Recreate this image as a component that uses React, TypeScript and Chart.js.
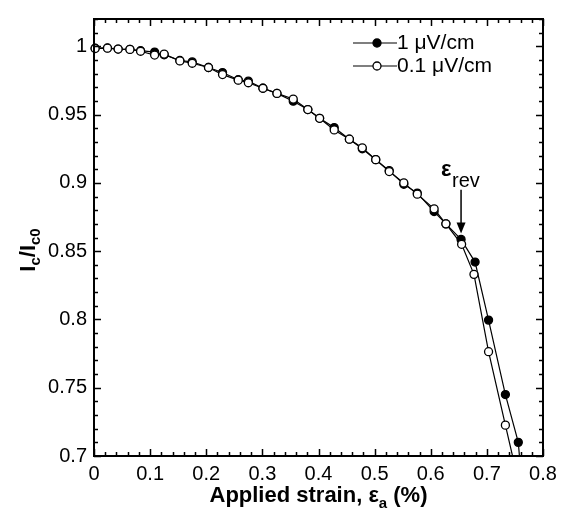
import { useEffect, useRef } from "react";
import { Chart, registerables } from "chart.js";

Chart.register(...registerables);

// Series: 1 µV/cm criterion (filled circles)
const strain1 = [0.002, 0.024, 0.043, 0.064, 0.083, 0.108, 0.125, 0.153, 0.175, 0.204, 0.229, 0.257, 0.275, 0.301, 0.326, 0.355, 0.381, 0.402, 0.428, 0.455, 0.478, 0.502, 0.526, 0.552, 0.576, 0.606, 0.627, 0.654, 0.679, 0.703, 0.733, 0.756, 0.766];
const ic1 = [0.9986, 0.9988, 0.998, 0.9978, 0.9968, 0.9958, 0.9938, 0.9896, 0.9886, 0.9845, 0.9808, 0.9755, 0.9745, 0.9693, 0.9655, 0.9598, 0.9537, 0.9473, 0.9405, 0.932, 0.925, 0.917, 0.909, 0.899, 0.8925, 0.879, 0.870, 0.8586, 0.842, 0.7995, 0.745, 0.710, 0.66];

// Series: 0.1 µV/cm criterion (open circles)
const strain01 = [0.002, 0.024, 0.043, 0.064, 0.083, 0.108, 0.125, 0.153, 0.175, 0.204, 0.229, 0.257, 0.275, 0.301, 0.326, 0.355, 0.381, 0.402, 0.428, 0.455, 0.478, 0.502, 0.526, 0.552, 0.576, 0.606, 0.627, 0.655, 0.677, 0.703, 0.733, 0.757];
const ic01 = [0.9984, 0.9986, 0.998, 0.9977, 0.9964, 0.9936, 0.9943, 0.9893, 0.9876, 0.9845, 0.9793, 0.9752, 0.9733, 0.9693, 0.9655, 0.9614, 0.9537, 0.9473, 0.9388, 0.932, 0.9257, 0.917, 0.9083, 0.9, 0.8917, 0.881, 0.87, 0.855, 0.833, 0.7764, 0.7226, 0.68];

const seriesLabels = ["1 μV/cm", "0.1 μV/cm"];

const xTicks = [0, 0.1, 0.2, 0.3, 0.4, 0.5, 0.6, 0.7, 0.8];
const xTickLabels = ["0", "0.1", "0.2", "0.3", "0.4", "0.5", "0.6", "0.7", "0.8"];
const yTicks = [0.7, 0.75, 0.8, 0.85, 0.9, 0.95, 1];
const yTickLabels = ["0.7", "0.75", "0.8", "0.85", "0.9", "0.95", "1"];

const xMin = 0, xMax = 0.8, xMinorStep = 0.02;
const yMin = 0.7, yMax = 1.02, yMinorStep = 0.01;

// epsilon_rev annotation (data coords)
const revStrain = 0.654;
const revArrowTip = 0.863;
const revArrowTail = 0.895;

const FONT = "'Liberation Sans', Arial, Helvetica, sans-serif";

const decorPlugin = {
  id: "decor",
  afterDraw(chart: any) {
    const ctx = chart.ctx as CanvasRenderingContext2D;
    const { left, right, top, bottom } = chart.chartArea;
    const xs = chart.scales.x;
    const ys = chart.scales.y;
    ctx.save();
    ctx.strokeStyle = "#000";
    ctx.fillStyle = "#000";

    // frame
    ctx.lineWidth = 2;
    ctx.strokeRect(left, top, right - left, bottom - top);

    // ticks (inward, all four sides)
    ctx.lineWidth = 1.5;
    const nx = Math.round((xMax - xMin) / xMinorStep);
    for (let i = 0; i <= nx; i++) {
      const v = xMin + i * xMinorStep;
      const major = i % 5 === 0;
      const len = major ? 7 : 4;
      const px = Math.round(xs.getPixelForValue(v)) + 0.5;
      ctx.beginPath();
      ctx.moveTo(px, bottom);
      ctx.lineTo(px, bottom - len);
      ctx.moveTo(px, top);
      ctx.lineTo(px, top + len);
      ctx.stroke();
    }
    const ny = Math.round((yMax - yMin) / yMinorStep);
    for (let i = 0; i <= ny; i++) {
      const v = yMin + i * yMinorStep;
      const major = i % 5 === 0;
      const len = major ? 7 : 4;
      const py = Math.round(ys.getPixelForValue(v)) + 0.5;
      ctx.beginPath();
      ctx.moveTo(left, py);
      ctx.lineTo(left + len, py);
      ctx.moveTo(right, py);
      ctx.lineTo(right - len, py);
      ctx.stroke();
    }

    // x title with subscript
    ctx.textBaseline = "alphabetic";
    ctx.textAlign = "left";
    const xParts: [string, string, number][] = [
      ["Applied strain, ε", "bold 22px " + FONT, 0],
      ["a", "bold 15px " + FONT, 6],
      [" (%)", "bold 22px " + FONT, 0],
    ];
    let tw = 0;
    for (const p of xParts) { ctx.font = p[1]; tw += ctx.measureText(p[0]).width; }
    let cx = (left + right) / 2 - tw / 2;
    for (const p of xParts) {
      ctx.font = p[1];
      ctx.fillText(p[0], cx, 502 + p[2]);
      cx += ctx.measureText(p[0]).width;
    }

    // y title rotated with subscripts
    ctx.save();
    ctx.translate(35, 250);
    ctx.rotate(-Math.PI / 2);
    const yParts: [string, string, number][] = [
      ["I", "bold 22px " + FONT, 0],
      ["c", "bold 15px " + FONT, 5],
      ["/I", "bold 22px " + FONT, 0],
      ["c0", "bold 15px " + FONT, 5],
    ];
    tw = 0;
    for (const p of yParts) { ctx.font = p[1]; tw += ctx.measureText(p[0]).width; }
    cx = -tw / 2;
    for (const p of yParts) {
      ctx.font = p[1];
      ctx.fillText(p[0], cx, p[2]);
      cx += ctx.measureText(p[0]).width;
    }
    ctx.restore();

    // legend
    const legY = [43, 66];
    for (let i = 0; i < 2; i++) {
      const ly = legY[i];
      ctx.lineWidth = 1.2;
      ctx.beginPath();
      ctx.moveTo(353, ly);
      ctx.lineTo(397, ly);
      ctx.stroke();
      ctx.beginPath();
      ctx.arc(377, ly, 4, 0, Math.PI * 2);
      ctx.fillStyle = i === 0 ? "#000" : "#fff";
      ctx.fill();
      ctx.lineWidth = 1.3;
      ctx.stroke();
      ctx.fillStyle = "#000";
      ctx.font = "21px " + FONT;
      ctx.fillText(seriesLabels[i], 397, ly + 6);
    }

    // epsilon_rev annotation
    const ax = xs.getPixelForValue(revStrain);
    const tipY = ys.getPixelForValue(revArrowTip);
    const tailY = ys.getPixelForValue(revArrowTail);
    ctx.font = "bold 22px " + FONT;
    ctx.fillText("ε", ax - 20, tailY - 14);
    ctx.font = "20px " + FONT;
    ctx.fillText("rev", ax - 9, tailY - 3);
    ctx.lineWidth = 1.5;
    ctx.beginPath();
    ctx.moveTo(ax, tailY);
    ctx.lineTo(ax, tipY - 9);
    ctx.stroke();
    ctx.beginPath();
    ctx.moveTo(ax, tipY);
    ctx.lineTo(ax - 4.5, tipY - 11);
    ctx.lineTo(ax + 4.5, tipY - 11);
    ctx.closePath();
    ctx.fill();

    ctx.restore();
  },
};

export default function App() {
  const ref = useRef<HTMLCanvasElement | null>(null);
  useEffect(() => {
    if (!ref.current) return;
    Chart.defaults.font.family = FONT;
    Chart.defaults.color = "#000";
    const chart = new Chart(ref.current, {
      type: "line",
      data: {
        datasets: [
          {
            label: seriesLabels[0],
            data: strain1.map((x, i) => ({ x, y: ic1[i] })),
            borderColor: "#000",
            borderWidth: 1.2,
            pointRadius: 4,
            pointBorderWidth: 1.3,
            pointBackgroundColor: "#000",
            pointBorderColor: "#000",
            order: 1,
            clip: { left: 10, right: 10, top: 10, bottom: 0 } as any,
          },
          {
            label: seriesLabels[1],
            data: strain01.map((x, i) => ({ x, y: ic01[i] })),
            borderColor: "#000",
            borderWidth: 1.2,
            pointRadius: 4,
            pointBorderWidth: 1.3,
            pointBackgroundColor: "#fff",
            pointBorderColor: "#000",
            order: 0,
            clip: { left: 10, right: 10, top: 10, bottom: 0 } as any,
          },
        ],
      },
      options: {
        responsive: false,
        animation: false,
        layout: { padding: { left: 0, top: 9, right: 26, bottom: 0 } },
        plugins: { legend: { display: false }, tooltip: { enabled: false } },
        scales: {
          x: {
            type: "linear",
            min: xMin,
            max: xMax,
            grid: { display: false, drawTicks: false },
            border: { display: false },
            afterBuildTicks: (s: any) => { s.ticks = xTicks.map((v) => ({ value: v })); },
            afterFit: (s: any) => { s.height = 60; },
            ticks: {
              padding: 6,
              font: { size: 20 },
              color: "#000",
              maxRotation: 0,
              autoSkip: false,
              callback: (v: any) => { const i = xTicks.findIndex((t) => Math.abs(t - v) < 1e-9); return i >= 0 ? xTickLabels[i] : ""; },
            },
          },
          y: {
            type: "linear",
            min: yMin,
            max: yMax,
            grid: { display: false, drawTicks: false },
            border: { display: false },
            afterBuildTicks: (s: any) => { s.ticks = yTicks.map((v) => ({ value: v })); },
            afterFit: (s: any) => { s.width = 94; },
            ticks: {
              padding: 7,
              font: { size: 20 },
              color: "#000",
              autoSkip: false,
              callback: (v: any) => { const i = yTicks.findIndex((t) => Math.abs(t - v) < 1e-9); return i >= 0 ? yTickLabels[i] : ""; },
            },
          },
        },
      },
      plugins: [decorPlugin],
    });
    return () => chart.destroy();
  }, []);
  return (
    <div style={{ position: "absolute", left: 0, top: 0, width: 569, height: 516 }}>
      <canvas ref={ref} width={569} height={516} style={{ width: 569, height: 516, display: "block" }} />
    </div>
  );
}
